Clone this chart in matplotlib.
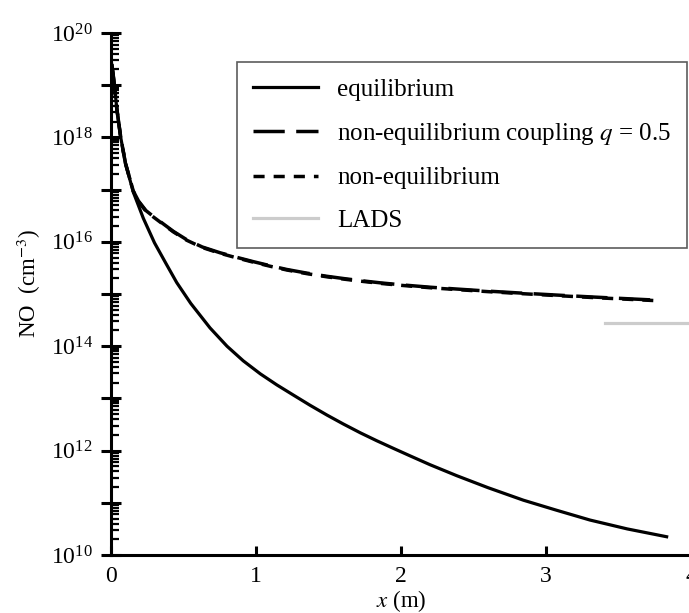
import numpy as np
import matplotlib
matplotlib.use("Agg")
import matplotlib.pyplot as plt

plt.rcParams["font.family"] = ["Liberation Serif", "DejaVu Serif"]
plt.rcParams["mathtext.fontset"] = "stix"

# equilibrium: x (m) and log10 of NO (cm^-3)
x_eq = [0.005, 0.02, 0.04, 0.067, 0.10, 0.154, 0.223, 0.30, 0.38, 0.453,
        0.55, 0.683, 0.80, 0.912, 1.03, 1.143, 1.26, 1.372, 1.49, 1.602,
        1.72, 1.832, 1.95, 2.062, 2.20, 2.384, 2.60, 2.844, 3.07, 3.303,
        3.56, 3.832]
log_no_eq = [19.40, 19.10, 18.55, 18.00, 17.50, 16.95, 16.45, 15.98, 15.58, 15.22,
             14.82, 14.35, 14.00, 13.72, 13.47, 13.26, 13.06, 12.87, 12.68, 12.51,
             12.34, 12.19, 12.04, 11.90, 11.73, 11.52, 11.29, 11.05, 10.86, 10.67,
             10.50, 10.35]

# non-equilibrium curves (the two lie almost on top of each other)
x_neq = [0.005, 0.02, 0.04, 0.067, 0.10, 0.154, 0.19, 0.24, 0.29, 0.338,
         0.43, 0.522, 0.63, 0.752, 0.87, 0.981, 1.10, 1.212, 1.35, 1.487,
         1.62, 1.74, 1.87, 2.005, 2.20, 2.384, 2.60, 2.844, 3.07, 3.303,
         3.52, 3.74]
log_no_coupling = [19.40, 19.10, 18.55, 18.00, 17.50, 16.97, 16.78, 16.60, 16.49, 16.39,
                   16.20, 16.04, 15.90, 15.79, 15.70, 15.62, 15.54, 15.47, 15.40, 15.34,
                   15.29, 15.25, 15.21, 15.175, 15.13, 15.095, 15.055, 15.015, 14.98, 14.945,
                   14.915, 14.885]
log_no_noneq = [19.40, 19.10, 18.55, 18.00, 17.50, 16.97, 16.77, 16.59, 16.48, 16.38,
                16.19, 16.03, 15.89, 15.78, 15.69, 15.61, 15.53, 15.46, 15.39, 15.33,
                15.28, 15.24, 15.20, 15.165, 15.12, 15.085, 15.045, 15.005, 14.97, 14.935,
                14.905, 14.875]

x_lads = [3.41, 4.1]
no_lads = [2.75e14, 2.75e14]

fig = plt.figure(figsize=(6.89, 6.13), dpi=100)
ax = fig.add_axes([0.1611, 0.0946, 0.8418, 0.8516])

lw = 2.3
ax.plot(x_eq, 10.0 ** np.array(log_no_eq), color="black", lw=lw, label="equilibrium")
ax.plot(x_neq, 10.0 ** np.array(log_no_coupling), color="black", lw=lw + 0.2,
        ls=(0, (9.0, 3.3)), label="non-equilibrium coupling $q$ = 0.5")
ax.plot(x_neq, 10.0 ** np.array(log_no_noneq), color="black", lw=lw + 0.2,
        ls=(0, (3.2, 2.6)), label="non-equilibrium")
ax.plot(x_lads, no_lads, color="#cccccc", lw=lw, label="LADS")

ax.set_yscale("log")
ax.set_xlim(0, 4)
ax.set_ylim(1e10, 1e20)

yt = 10.0 ** np.arange(10, 21)
ax.set_yticks(yt)
ax.set_yticklabels([r"$\mathdefault{10^{%d}}$" % e if e % 2 == 0 else ""
                    for e in range(10, 21)])
ax.yaxis.set_minor_locator(matplotlib.ticker.LogLocator(base=10, subs=np.arange(2, 10), numticks=100))
ax.yaxis.set_minor_formatter(matplotlib.ticker.NullFormatter())
ax.set_xticks([0, 1, 2, 3, 4])
ax.set_xticklabels(["0", "1", "2", "3", "4"])

for s in ["top", "right"]:
    ax.spines[s].set_visible(False)
for s in ["left", "bottom"]:
    ax.spines[s].set_linewidth(2.2)

ax.tick_params(axis="y", which="major", direction="inout", length=14.4, width=2.2,
               labelsize=17, pad=6)
ax.tick_params(axis="y", which="minor", direction="in", length=6, width=1.6)
ax.tick_params(axis="x", which="major", direction="in", length=6.5, width=2.2,
               labelsize=17, pad=8)

ax.set_xlabel("$x$ (m)", fontsize=16.5)
ax.xaxis.set_label_coords(0.5, -0.064)
ax.xaxis.label.set_va("top")
ax.set_ylabel(r"NO  (cm$^{-3}$)", fontsize=16.5)
ax.yaxis.set_label_coords(-0.142, 0.521)
ax.yaxis.label.set_va("center")

leg = ax.legend(loc="upper right", bbox_to_anchor=(687 / 689, 1 - 62 / 613),
                bbox_transform=fig.transFigure, fontsize=18, frameon=True,
                fancybox=False, handlelength=2.6, handletextpad=0.75,
                labelspacing=0.8, borderpad=0.65, borderaxespad=0)
leg.get_frame().set_edgecolor("#333333")
leg.get_frame().set_linewidth(1.2)

fig.savefig("out.png", dpi=100)
